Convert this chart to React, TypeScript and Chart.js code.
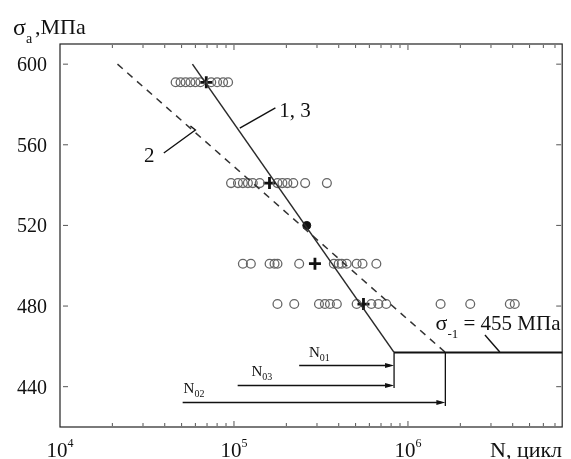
import React, { useEffect, useRef } from 'react';
import { Chart, registerables } from 'chart.js';
Chart.register(...registerables);

// ---- axis ranges / ticks ----
const X_MIN = 1e4;
const X_MAX = 7.7e6;
const Y_MIN = 420;
const Y_MAX = 610;
const yTickValues = [440, 480, 520, 560, 600];
const xDecadeExponents = [4, 5, 6];

// ---- experimental points (N, cycles) per stress level ----
const stressLevels = [591, 541, 501, 481];
const cyclesLevel1 = [46200, 49300, 52700, 56200, 60000, 64100, 74000, 80000, 86600, 92500];
const cyclesLevel2 = [96200, 105400, 112500, 120200, 128200, 140600, 177800, 189800, 202700, 219200, 256500, 342000];
const cyclesLevel3 = [112500, 125000, 160200, 171000, 177800, 237000, 375000, 400000, 416000, 444500, 507000, 548000, 658000];
const cyclesLevel4 = [177800, 222000, 308000, 333000, 356000, 390000, 507000, 616000, 676000, 750000, 1540000, 2280000, 3850000, 4110000];
const medianCycles = [69300, 160000, 292000, 555000];
const dotCycles = [262000];
const dotStress = [520];

// ---- fitted curves ----
const curve13N = [57700, 832000];
const curve13S = [600, 457];
const curve2N = [21400, 1640000];
const curve2S = [600, 457];
const enduranceLimit = 457;

// ---- annotation arrows: [fromN, toN, sigma] ----
const arrowN01 = [237000, 832000, 451];
const arrowN03 = [105000, 832000, 441];
const arrowN02 = [50700, 1640000, 432.5];
const dropN01 = [832000, 457, 439.3];
const dropN02 = [1640000, 457, 430.4];

// leader lines [N, sigma] sequences
const leader13 = [[108000, 568.3], [173000, 578.3]];
const leader2 = [[39500, 555.9], [60000, 567.3], [56200, 569.3]];
const leaderSigma = [[2770000, 465.6], [3370000, 457.2]];

const SERIF = '"Liberation Serif", "Times New Roman", serif';

function drawRich(ctx: CanvasRenderingContext2D, x: number, y: number, parts: [string, number, number][]) {
  let cx = x;
  for (const [t, size, dy] of parts) {
    ctx.font = `${size}px ${SERIF}`;
    ctx.fillText(t, cx, y + dy);
    cx += ctx.measureText(t).width;
  }
  return cx - x;
}

function measureRich(ctx: CanvasRenderingContext2D, parts: [string, number, number][]) {
  let w = 0;
  for (const [t, size] of parts) {
    ctx.font = `${size}px ${SERIF}`;
    w += ctx.measureText(t).width;
  }
  return w;
}

const overlay = {
  id: 'overlay',
  afterDatasetsDraw(chart: any) {
    const { ctx, chartArea: a, scales } = chart;
    const px = (v: number) => scales.x.getPixelForValue(v);
    const py = (v: number) => scales.y.getPixelForValue(v);
    const line = (x1: number, y1: number, x2: number, y2: number) => {
      ctx.beginPath();
      ctx.moveTo(x1, y1);
      ctx.lineTo(x2, y2);
      ctx.stroke();
    };
    ctx.save();
    ctx.strokeStyle = '#222';
    ctx.fillStyle = '#111';
    ctx.lineWidth = 1.2;
    ctx.strokeRect(a.left, a.top, a.right - a.left, a.bottom - a.top);

    // y ticks
    ctx.lineWidth = 1;
    ctx.strokeStyle = '#555';
    for (const t of yTickValues) {
      const yy = py(t);
      line(a.left + 3, yy, a.left + 8, yy);
      line(a.right - 6, yy, a.right - 1, yy);
    }
    // x ticks (log minor)
    for (let d = 3; d <= 6; d++) {
      for (let m = 1; m <= 9; m++) {
        const v = m * Math.pow(10, d);
        if (v <= X_MIN || v >= X_MAX) continue;
        const xx = px(v);
        const len = m === 1 ? 5 : 3;
        line(xx, a.bottom - 1, xx, a.bottom - 1 - len);
        line(xx, a.top + 1, xx, a.top + 1 + len);
      }
    }

    // tick labels
    ctx.fillStyle = '#111';
    ctx.textBaseline = 'alphabetic';
    ctx.font = `20px ${SERIF}`;
    ctx.textAlign = 'right';
    for (const t of yTickValues) {
      ctx.fillText(String(t), a.left - 13, py(t) + 7);
    }
    ctx.textAlign = 'left';
    for (const e of xDecadeExponents) {
      const parts: [string, number, number][] = [['10', 21, 0], [String(e), 12, -10]];
      const w = measureRich(ctx, parts);
      drawRich(ctx, px(Math.pow(10, e)) - w / 2, 457, parts);
    }

    // axis titles
    drawRich(ctx, 13, 35, [['σ', 24, 0], ['a', 14, 8]]);
    drawRich(ctx, 35, 34, [[',МПа', 22, 0]]);
    drawRich(ctx, 490, 457, [['N, цикл', 22, 0]]);

    // endurance limit horizontal line
    ctx.strokeStyle = '#111';
    ctx.lineWidth = 2;
    line(px(curve13N[1]), py(enduranceLimit), a.right, py(enduranceLimit));

    // drops
    ctx.lineWidth = 1.3;
    for (const [n, s1, s2] of [dropN01, dropN02]) {
      line(px(n), py(s1), px(n), py(s2));
    }
    // arrows
    for (const [n1, n2, s] of [arrowN01, arrowN03, arrowN02]) {
      const x1 = px(n1), x2 = px(n2), yy = Math.round(py(s)) + 0.5;
      line(x1, yy, x2 - 4, yy);
      ctx.beginPath();
      ctx.moveTo(x2, yy);
      ctx.lineTo(x2 - 9, yy - 2.5);
      ctx.lineTo(x2 - 9, yy + 2.5);
      ctx.closePath();
      ctx.fill();
    }
    // leaders
    ctx.lineWidth = 1.4;
    for (const seq of [leader13, leader2, leaderSigma]) {
      ctx.beginPath();
      seq.forEach(([n, s], i) => {
        if (i === 0) ctx.moveTo(px(n), py(s));
        else ctx.lineTo(px(n), py(s));
      });
      ctx.stroke();
    }

    // labels
    drawRich(ctx, px(182000), py(573.8), [['1, 3', 21, 0]]);
    drawRich(ctx, px(30400), py(551.5), [['2', 21, 0]]);
    drawRich(ctx, px(270000), py(454.7), [['N', 15, 0], ['01', 10, 4]]);
    drawRich(ctx, px(126000), py(445.3), [['N', 15, 0], ['03', 10, 4]]);
    drawRich(ctx, px(51300), py(436.9), [['N', 15, 0], ['02', 10, 4]]);
    drawRich(ctx, px(1440000), py(468.1), [['σ', 22, 0], ['-1', 13, 8], [' = 455 МПа', 21, 0]]);
    ctx.restore();
  },
};

export default function App() {
  const ref = useRef<HTMLCanvasElement>(null);
  useEffect(() => {
    if (!ref.current) return;
    const rows = [cyclesLevel1, cyclesLevel2, cyclesLevel3, cyclesLevel4];
    const circleSets = rows.map((row, i) => ({
      data: row.map((n) => ({ x: n, y: stressLevels[i] })),
      showLine: false,
      pointStyle: 'circle',
      pointRadius: 4.4,
      pointBorderColor: '#666',
      pointBackgroundColor: 'rgba(255,255,255,0)',
      pointBorderWidth: 1.3,
    }));
    const chart = new Chart(ref.current, {
      type: 'scatter',
      data: {
        datasets: [
          {
            data: curve13N.map((n, i) => ({ x: n, y: curve13S[i] })),
            showLine: true,
            borderColor: '#2a2a2a',
            borderWidth: 1.5,
            pointRadius: 0,
          },
          {
            data: curve2N.map((n, i) => ({ x: n, y: curve2S[i] })),
            showLine: true,
            borderColor: '#333',
            borderWidth: 1.5,
            borderDash: [7, 6],
            pointRadius: 0,
          },
          ...circleSets,
          {
            data: medianCycles.map((n, i) => ({ x: n, y: stressLevels[i] })),
            showLine: false,
            pointStyle: 'cross',
            pointRadius: 6,
            pointBorderColor: '#111',
            pointBorderWidth: 2.8,
          },
          {
            data: dotCycles.map((n, i) => ({ x: n, y: dotStress[i] })),
            showLine: false,
            pointStyle: 'circle',
            pointRadius: 4,
            pointBorderColor: '#111',
            pointBackgroundColor: '#111',
            pointBorderWidth: 1,
          },
        ] as any,
      },
      options: {
        animation: false,
        responsive: false,
        devicePixelRatio: 1,
        layout: { padding: { left: 60, right: 2, top: 44, bottom: 32 } },
        scales: {
          x: { type: 'logarithmic', min: X_MIN, max: X_MAX, display: false },
          y: { type: 'linear', min: Y_MIN, max: Y_MAX, display: false },
        },
        plugins: { legend: { display: false }, tooltip: { enabled: false } },
        events: [],
      } as any,
      plugins: [overlay],
    });
    return () => chart.destroy();
  }, []);
  return (
    <div style={{ position: 'fixed', left: 0, top: 0, width: 571, height: 459, background: '#fff' }}>
      <canvas ref={ref} width={571} height={459} style={{ display: 'block' }} />
    </div>
  );
}
